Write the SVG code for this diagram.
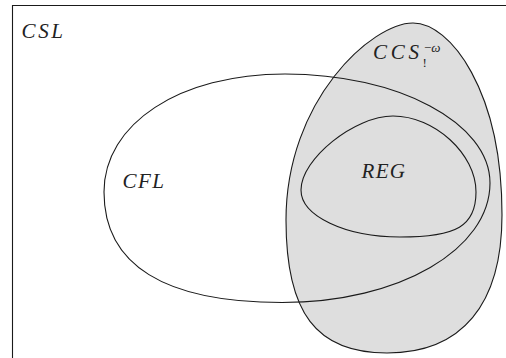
<svg xmlns="http://www.w3.org/2000/svg" width="506" height="358" viewBox="0 0 506 358">
<style>
.ln{fill:none;stroke:#1a1a1a;stroke-width:1.1}
.m{font-family:"Liberation Serif",serif;font-style:italic;font-size:21px;fill:#222}
.s{font-family:"Liberation Serif",serif;font-size:13px;fill:#222}
</style>
<rect width="506" height="358" fill="#ffffff"/>
<g id="CSL">
<path class="ln" d="M12.5,358 V5.5 H506"/>
<text class="m" x="21.5" y="37.5" textLength="41.5" lengthAdjust="spacing">CSL</text>
</g>
<g id="CCS">
<path d="M413,23 C450,23 502,90 502,215 C502,304.7 461.75,353 387,353 C316.3,353 286,313.1 286,220 C286,100 372,23 413,23 Z" fill="#dedede" stroke="#1a1a1a" stroke-width="1.1"/>
<text class="m" x="373" y="58.5" textLength="46" lengthAdjust="spacing">CCS</text>
<text class="s" x="422.5" y="67">!</text>
<text class="s" x="424" y="52">−<tspan font-style="italic">ω</tspan></text>
</g>
<g id="CFL">
<path class="ln" d="M104,192 C104,123.6 179.8,74 285,74 C398.2,74 490,122.8 490,183 C490,249 400,302.5 282,302.5 C164.5,302.5 104,265 104,192 Z"/>
<text class="m" x="122.5" y="187.5" textLength="41.5" lengthAdjust="spacing">CFL</text>
</g>
<g id="REG">
<path class="ln" d="M393,116 C434.5,116 476,154 476,192 C476,225.75 457,237 400,237 C345.3,237 301,216 301,190 C301,158.9 354.4,116 393,116 Z"/>
<text class="m" x="361.5" y="178" textLength="43.5" lengthAdjust="spacing">REG</text>
</g>
</svg>
